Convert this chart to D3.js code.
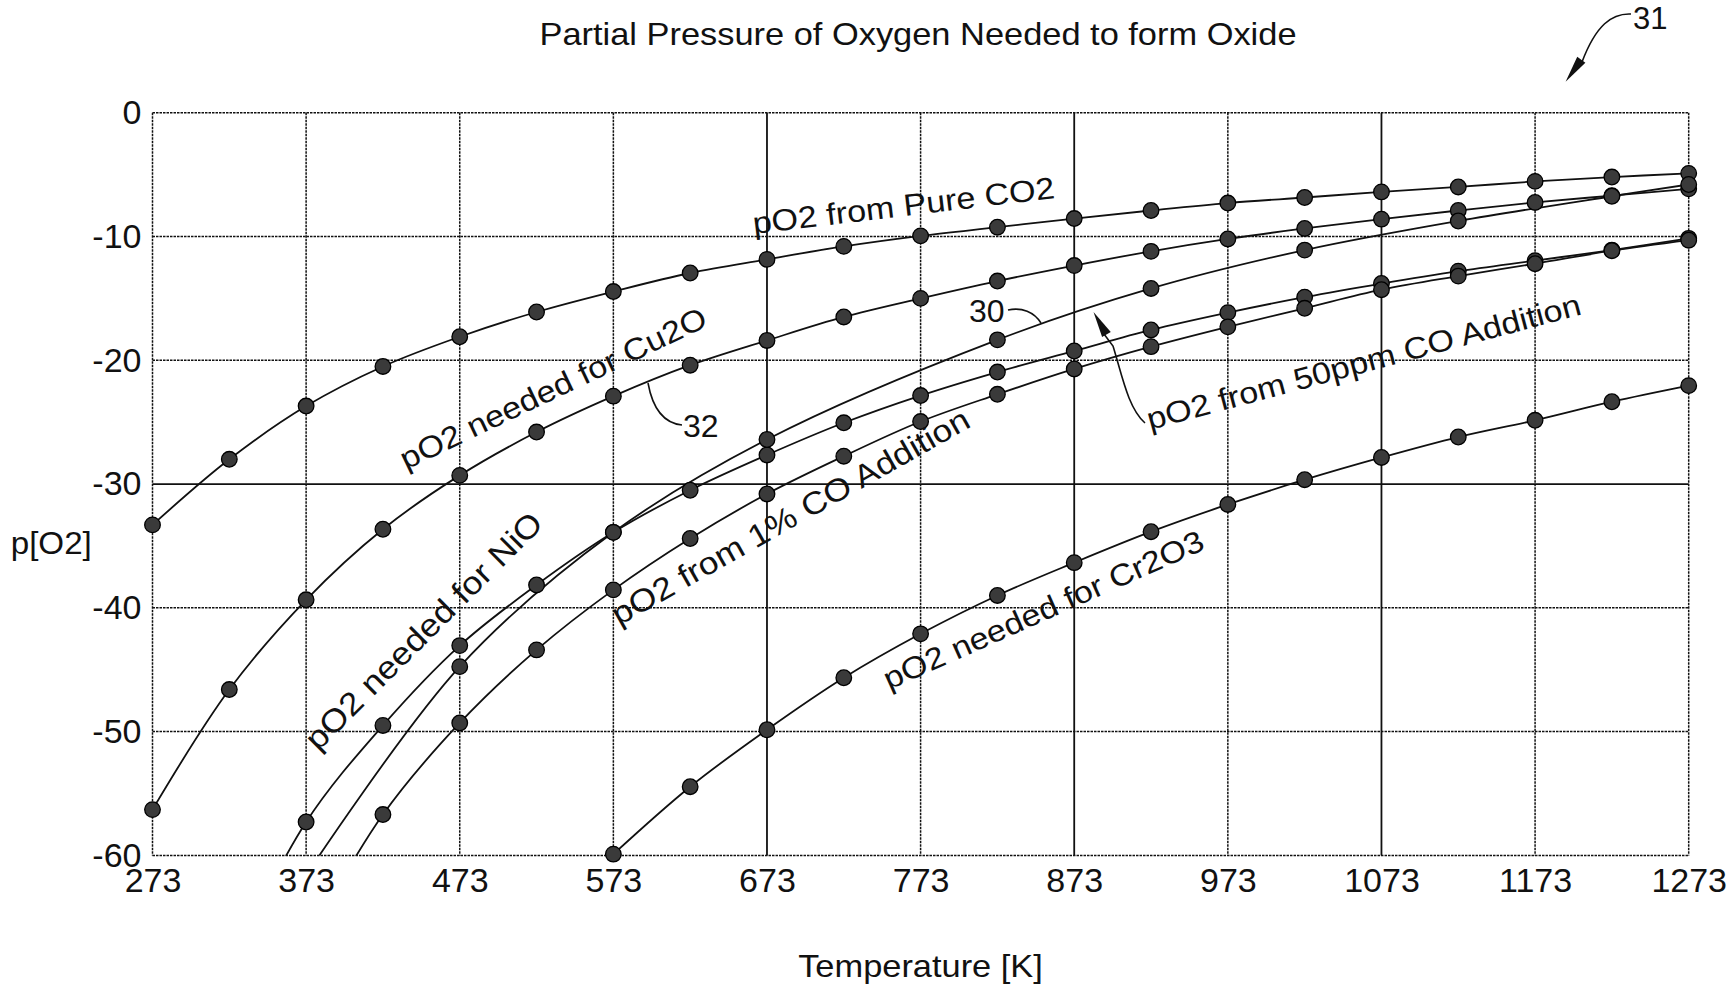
<!DOCTYPE html>
<html><head><meta charset="utf-8">
<script src="https://cdn.jsdelivr.net/npm/d3@7"></script>
<style>
body{margin:0;background:#fff}
svg{display:block}
text{font-family:"Liberation Sans",Arial,Helvetica,sans-serif;fill:#111}
</style>
</head><body>
<svg id="chart" width="1733" height="997"></svg>
<script>
// ---------------- data ----------------
const xTicks = [273, 373, 473, 573, 673, 773, 873, 973, 1073, 1173, 1273];
const yTicks = [0, -10, -20, -30, -40, -50, -60];

const tempsPureCO2 = [273,323,373,423,473,523,573,623,673,723,773,823,873,923,973,1023,1073,1123,1173,1223,1273];
const pureCO2 = [-33.3,-28.0,-23.7,-20.5,-18.1,-16.1,-14.45,-12.95,-11.85,-10.8,-9.95,-9.25,-8.55,-7.9,-7.3,-6.85,-6.4,-6.0,-5.55,-5.2,-4.9];

const tempsCu2O = [273,323,373,423,473,523,573,623,673,723,773,823,873,923,973,1023,1073,1123,1173,1223,1273];
const cu2oNeeded = [-56.3,-46.6,-39.35,-33.65,-29.3,-25.8,-22.9,-20.4,-18.4,-16.5,-15.0,-13.6,-12.35,-11.2,-10.2,-9.35,-8.6,-7.9,-7.25,-6.7,-6.15];

const tempsNiO = [323,373,423,473,523,573,623,673,723,773,823,873,923,973,1023,1073,1123,1173,1223,1273];
const nioNeeded = [-69,-57.3,-49.5,-43.05,-38.15,-33.9,-30.5,-27.65,-25.05,-22.85,-20.95,-19.25,-17.55,-16.15,-14.9,-13.8,-12.8,-11.95,-11.1,-10.15];

const temps1pctCO = [373,423,473,523,573,623,673,723,773,823,873,923,973,1023,1073,1123,1173,1223,1273];
const from1pctCO = [-67,-56.7,-49.3,-43.4,-38.55,-34.4,-30.8,-27.75,-24.95,-22.75,-20.7,-18.9,-17.3,-15.8,-14.3,-13.2,-12.2,-11.15,-10.3];

const temps50ppmCO = [373,473,573,673,823,923,1023,1123,1223,1273];
const from50ppmCO = [-61.6,-44.75,-33.9,-26.4,-18.35,-14.2,-11.1,-8.75,-6.75,-5.8];

const tempsCr2O3 = [573,623,673,723,773,823,873,923,973,1023,1073,1123,1173,1223,1273];
const cr2o3Needed = [-59.9,-54.45,-49.85,-45.65,-42.1,-39.0,-36.35,-33.85,-31.65,-29.65,-27.85,-26.2,-24.85,-23.35,-22.05];

const seriesList = [
  {name:"pO2 from Pure CO2", t:tempsPureCO2, v:pureCO2},
  {name:"pO2 needed for Cu2O", t:tempsCu2O, v:cu2oNeeded},
  {name:"pO2 needed for NiO", t:tempsNiO, v:nioNeeded},
  {name:"pO2 from 1% CO Addition", t:temps1pctCO, v:from1pctCO},
  {name:"pO2 from 50ppm CO Addition", t:temps50ppmCO, v:from50ppmCO},
  {name:"pO2 needed for Cr2O3", t:tempsCr2O3, v:cr2o3Needed}
];

// ---------------- layout ----------------
const L = 152.5, R = 1688.7, T = 112.7, B = 855.4;
const x = d3.scaleLinear().domain([273, 1273]).range([L, R]);
const y = d3.scaleLinear().domain([-60, 0]).range([B, T]);
const solidX = [673, 873, 1073];
const solidY = [-30];

const svg = d3.select("#chart");

svg.append("defs").append("clipPath").attr("id","plotclip")
  .append("rect").attr("x",L).attr("y",T).attr("width",R-L).attr("height",B-T);

// gridlines
const grid = svg.append("g");
grid.selectAll("line.vx").data(xTicks).join("line")
  .attr("x1",d=>x(d)).attr("x2",d=>x(d)).attr("y1",T).attr("y2",B)
  .attr("stroke","#111")
  .attr("stroke-width",d=>solidX.includes(d)?1.8:1.5)
  .attr("stroke-dasharray",d=>solidX.includes(d)?null:"2.5,1");
grid.selectAll("line.hy").data(yTicks).join("line")
  .attr("x1",L).attr("x2",R).attr("y1",d=>y(d)).attr("y2",d=>y(d))
  .attr("stroke","#111")
  .attr("stroke-width",d=>solidY.includes(d)?1.8:1.5)
  .attr("stroke-dasharray",d=>solidY.includes(d)?null:"2.5,1");

// axes (labels only)
const fmt = d => String(d);
const xAxis = svg.append("g").attr("transform",`translate(0,${B})`)
  .call(d3.axisBottom(x).tickValues(xTicks).tickSize(0).tickPadding(12).tickFormat(fmt));
xAxis.select(".domain").remove();
xAxis.selectAll("text").attr("font-size",34).attr("fill","#111")
  .attr("font-family","'Liberation Sans',Arial,sans-serif");

const yAxis = svg.append("g").attr("transform",`translate(${L},0)`)
  .call(d3.axisLeft(y).tickValues(yTicks).tickSize(0).tickPadding(11).tickFormat(fmt));
yAxis.select(".domain").remove();
yAxis.selectAll("text").attr("font-size",34).attr("fill","#111")
  .attr("font-family","'Liberation Sans',Arial,sans-serif");

// lines
const line = d3.line().x(d=>x(d[0])).y(d=>y(d[1])).curve(d3.curveCatmullRom.alpha(0.5));
const lines = svg.append("g").attr("clip-path","url(#plotclip)");
seriesList.forEach(s=>{
  const pts = s.t.map((t,i)=>[t, s.v[i]]);
  lines.append("path").datum(pts).attr("d",line)
    .attr("fill","none").attr("stroke","#111").attr("stroke-width",1.8);
});
// markers
const marks = svg.append("g");
seriesList.forEach(s=>{
  const pts = s.t.map((t,i)=>[t, s.v[i]]).filter(p=>p[1] >= -60.5);
  marks.selectAll(null).data(pts).join("circle")
    .attr("cx",d=>x(d[0])).attr("cy",d=>y(d[1])).attr("r",7.8)
    .attr("fill","#3a3a3a").attr("stroke","#000").attr("stroke-width",1.3);
});

// titles
svg.append("text").attr("transform","translate(918,45) scale(1.11,1)")
  .attr("text-anchor","middle").attr("font-size",31)
  .text("Partial Pressure of Oxygen Needed to form Oxide");
svg.append("text").attr("transform","translate(920.5,976.7) scale(1.11,1)")
  .attr("text-anchor","middle").attr("font-size",31)
  .text("Temperature [K]");
svg.append("text").attr("transform","translate(10.7,554) scale(1.07,1)")
  .attr("font-size",31).text("p[O2]");

// rotated series labels
const seriesLabels = [
  {text:"pO2 from Pure CO2", x:754, y:234, a:-6.8, fs:30.5},
  {text:"pO2 needed for Cu2O", x:406, y:470, a:-25.5, fs:30.5},
  {text:"pO2 needed for NiO", x:318, y:752, a:-45, fs:32},
  {text:"pO2 from 1% CO Addition", x:619, y:626, a:-29.5, fs:31.5},
  {text:"pO2 needed for Cr2O3", x:889, y:690, a:-24, fs:30.5},
  {text:"pO2 from 50ppm CO Addition", x:1150, y:430, a:-15, fs:30.5}
];
svg.append("g").selectAll("text").data(seriesLabels).join("text")
  .attr("transform",d=>`translate(${d.x},${d.y}) rotate(${d.a}) scale(1.12,1)`)
  .attr("font-size",d=>d.fs).text(d=>d.text);

// reference numerals
svg.append("text").attr("x",969).attr("y",322).attr("font-size",32).text("30");
svg.append("text").attr("x",683).attr("y",437).attr("font-size",32).text("32");
svg.append("text").attr("x",1633).attr("y",28.5).attr("font-size",31).text("31");

const lead = svg.append("g").attr("fill","none").attr("stroke","#111").attr("stroke-width",1.6);
lead.append("path").attr("d","M1008,310 C1022,307 1034,312 1041,323");
lead.append("path").attr("d","M648,383 C652,405 662,423 682,425");
lead.append("path").attr("d","M1145,423 C1128,408 1122,375 1113,346 L1101,330");
lead.append("path").attr("d","M1631,14 C1612,13 1596,25 1582,62");

function arrowHead(tipX, tipY, fromX, fromY, len, half){
  const dx = tipX-fromX, dy = tipY-fromY, d = Math.hypot(dx,dy);
  const ux = dx/d, uy = dy/d;
  const bx = tipX-ux*len, by = tipY-uy*len;
  return `M${tipX},${tipY} L${bx-uy*half},${by+ux*half} L${bx+uy*half},${by-ux*half} Z`;
}
svg.append("path").attr("d",arrowHead(1093.5,312,1113,346,26,5)).attr("fill","#111");
svg.append("path").attr("d",arrowHead(1565.6,81.7,1584,56,27,5)).attr("fill","#111");
</script>
</body></html>
